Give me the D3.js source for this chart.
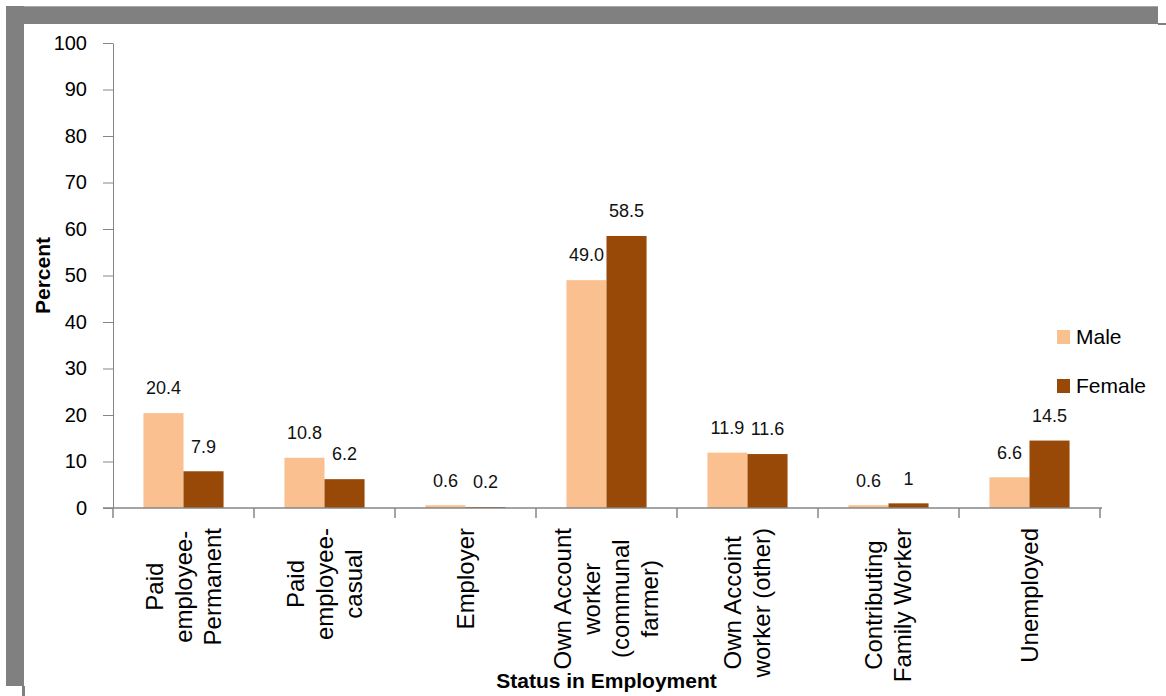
<!DOCTYPE html>
<html>
<head>
<meta charset="utf-8">
<script src="https://cdn.jsdelivr.net/npm/d3@7/dist/d3.min.js"></script>
<style>
  html, body { margin: 0; padding: 0; background: #fff; }
  svg { display: block; }
</style>
</head>
<body>
<svg id="chart" width="1166" height="696"></svg>
<script>
// ---- data ----
const categories = [
  "Paid employee-Permanent",
  "Paid employee-casual",
  "Employer",
  "Own Account worker (communal farmer)",
  "Own Accoint worker (other)",
  "Contributing Family Worker",
  "Unemployed"
];
const categoryLines = [
  ["Paid", "employee-", "Permanent"],
  ["Paid", "employee-", "casual"],
  ["Employer"],
  ["Own Account", "worker", "(communal", "farmer)"],
  ["Own Accoint", "worker (other)"],
  ["Contributing", "Family Worker"],
  ["Unemployed"]
];
const seriesNames = ["Male", "Female"];
const maleValues   = [20.4, 10.8, 0.6, 49.0, 11.9, 0.6, 6.6];
const femaleValues = [7.9, 6.2, 0.2, 58.5, 11.6, 1, 14.5];
const maleLabels   = ["20.4", "10.8", "0.6", "49.0", "11.9", "0.6", "6.6"];
const femaleLabels = ["7.9", "6.2", "0.2", "58.5", "11.6", "1", "14.5"];
const yTicks = [0, 10, 20, 30, 40, 50, 60, 70, 80, 90, 100];

// ---- layout ----
const svg = d3.select("#chart");
const colors = { Male: "#FAC090", Female: "#984807" };
const axisColor = "#868686";
const plot = { left: 113, right: 1100, top: 43, bottom: 508 };

// frame (gray shadow border)
svg.append("rect").attr("x", 6).attr("y", 6).attr("width", 1152).attr("height", 18).attr("fill", "#808080");
svg.append("rect").attr("x", 6).attr("y", 6).attr("width", 1152).attr("height", 1).attr("fill", "#a8a8a8");
svg.append("rect").attr("x", 6).attr("y", 6).attr("width", 18).attr("height", 680).attr("fill", "#808080");
svg.append("rect").attr("x", 1158).attr("y", 23).attr("width", 8).attr("height", 2).attr("fill", "#808080");
svg.append("rect").attr("x", 22).attr("y", 686).attr("width", 3).attr("height", 10).attr("fill", "#808080");

const x = d3.scaleBand().domain(categories).range([plot.left, plot.right]).paddingInner(0).paddingOuter(0);
const xs = d3.scaleBand().domain(seriesNames).range([0, x.bandwidth()]).paddingInner(0).paddingOuter(0.76);
const y = d3.scaleLinear().domain([0, 100]).range([plot.bottom, plot.top]);

// y axis
const yAxis = svg.append("g")
  .attr("transform", `translate(${plot.left},0)`)
  .call(d3.axisLeft(y).tickValues(yTicks).tickSize(10).tickSizeOuter(0).tickPadding(16).tickFormat(d3.format("d")));
yAxis.select(".domain").attr("stroke", axisColor);
yAxis.selectAll(".tick line").attr("stroke", axisColor);
yAxis.selectAll(".tick text")
  .attr("font-family", "Liberation Sans, Arial, sans-serif")
  .attr("font-size", 20).attr("fill", "#000");

// bars
const rows = categories.map((c, i) => ({
  cat: c,
  vals: [
    { s: "Male", v: maleValues[i], label: maleLabels[i] },
    { s: "Female", v: femaleValues[i], label: femaleLabels[i] }
  ]
}));
const groups = svg.append("g").selectAll("g").data(rows).join("g")
  .attr("transform", d => `translate(${x(d.cat)},0)`);
groups.selectAll("rect").data(d => d.vals).join("rect")
  .attr("x", d => xs(d.s))
  .attr("y", d => y(d.v))
  .attr("width", xs.bandwidth())
  .attr("height", d => y(0) - y(d.v))
  .attr("fill", d => colors[d.s]);
groups.selectAll("text").data(d => d.vals).join("text")
  .attr("x", d => xs(d.s) + xs.bandwidth() / 2)
  .attr("y", d => y(d.v) - 25)
  .attr("dy", "0.35em")
  .attr("text-anchor", "middle")
  .attr("font-family", "Liberation Sans, Arial, sans-serif")
  .attr("font-size", 18).attr("fill", "#111")
  .text(d => d.label);

// x axis line + boundary ticks
svg.append("line")
  .attr("x1", plot.left - 10).attr("x2", plot.right + 2)
  .attr("y1", y(0)).attr("y2", y(0))
  .attr("stroke", axisColor).attr("stroke-width", 1.5);
const bounds = categories.map(c => x(c)).concat([x(categories[categories.length - 1]) + x.bandwidth()]);
svg.append("g").selectAll("line").data(bounds).join("line")
  .attr("x1", d => d).attr("x2", d => d)
  .attr("y1", y(0)).attr("y2", y(0) + 10)
  .attr("stroke", axisColor).attr("stroke-width", 1.5);

// category labels (rotated, lines centered, block end anchored below axis)
const lineH = 29;
categories.forEach((c, i) => {
  const lines = categoryLines[i];
  const g = svg.append("g")
    .attr("transform", `translate(${x(c) + x.bandwidth() / 2},${y(0) + 20}) rotate(-90)`);
  const texts = g.selectAll("text").data(lines).join("text")
    .attr("font-family", "Liberation Sans, Arial, sans-serif")
    .attr("font-size", 24).attr("fill", "#000")
    .attr("text-anchor", "middle")
    .attr("y", (d, j) => (j - (lines.length - 1) / 2) * lineH)
    .attr("dy", "0.35em")
    .text(d => d);
  let maxLen = 0;
  texts.each(function () { maxLen = Math.max(maxLen, this.getComputedTextLength()); });
  texts.attr("x", -maxLen / 2);
});

// axis titles
svg.append("text")
  .attr("x", (plot.left + plot.right) / 2).attr("y", 688)
  .attr("text-anchor", "middle")
  .attr("font-family", "Liberation Sans, Arial, sans-serif")
  .attr("font-size", 21).attr("font-weight", "bold").attr("fill", "#000")
  .text("Status in Employment");
svg.append("text")
  .attr("transform", `translate(43,${(plot.top + plot.bottom) / 2}) rotate(-90)`)
  .attr("text-anchor", "middle").attr("dy", "0.35em")
  .attr("font-family", "Liberation Sans, Arial, sans-serif")
  .attr("font-size", 21).attr("font-weight", "bold").attr("fill", "#000")
  .text("Percent");

// legend
const legend = svg.append("g").selectAll("g").data(seriesNames).join("g")
  .attr("transform", (d, i) => `translate(1057,${337 + i * 49})`);
legend.append("rect").attr("x", 0).attr("y", -7).attr("width", 13).attr("height", 14)
  .attr("fill", d => colors[d]);
legend.append("text").attr("x", 19).attr("dy", "0.35em")
  .attr("font-family", "Liberation Sans, Arial, sans-serif")
  .attr("font-size", 21).attr("fill", "#000")
  .text(d => d);
</script>
</body>
</html>
